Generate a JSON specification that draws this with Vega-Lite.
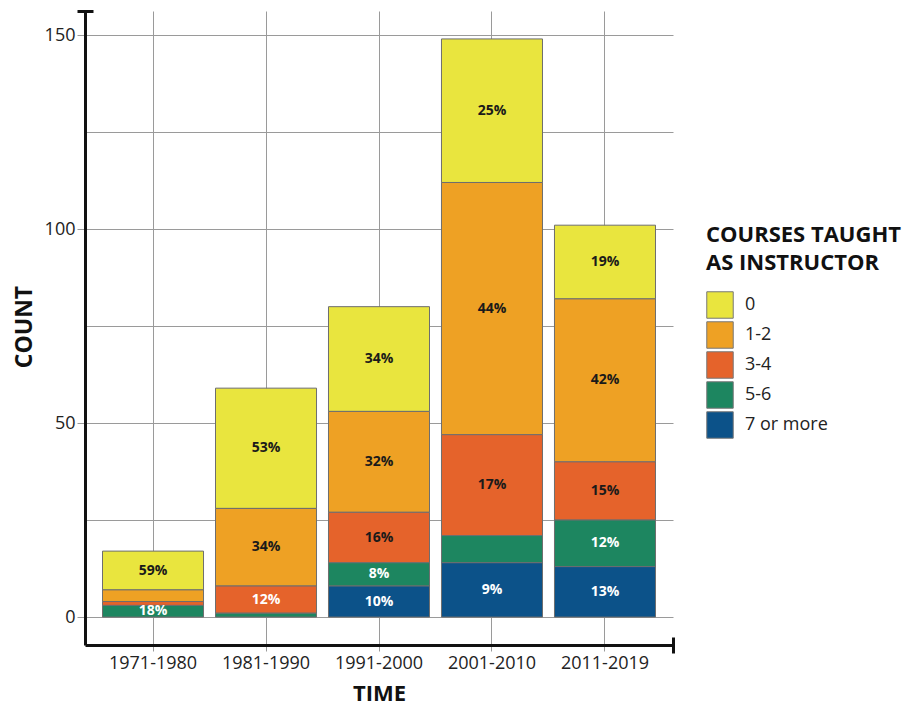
{
  "$schema": "https://vega.github.io/schema/vega-lite/v6.json",
  "width": 588,
  "height": 634,
  "autosize": {"type": "none"},
  "padding": {"left": 85, "top": 11, "right": 246, "bottom": 61},
  "background": "white",
  "config": {"view": {"stroke": null}, "font": "Open Sans"},
  "data": {
    "values": [
      {"time": "1971-1980", "course": "0", "count": 10, "label": "59%"},
      {"time": "1971-1980", "course": "1-2", "count": 3, "label": ""},
      {"time": "1971-1980", "course": "3-4", "count": 1, "label": ""},
      {"time": "1971-1980", "course": "5-6", "count": 3, "label": "18%"},
      {"time": "1981-1990", "course": "0", "count": 31, "label": "53%"},
      {"time": "1981-1990", "course": "1-2", "count": 20, "label": "34%"},
      {"time": "1981-1990", "course": "3-4", "count": 7, "label": "12%"},
      {"time": "1981-1990", "course": "5-6", "count": 1, "label": ""},
      {"time": "1991-2000", "course": "0", "count": 27, "label": "34%"},
      {"time": "1991-2000", "course": "1-2", "count": 26, "label": "32%"},
      {"time": "1991-2000", "course": "3-4", "count": 13, "label": "16%"},
      {"time": "1991-2000", "course": "5-6", "count": 6, "label": "8%"},
      {"time": "1991-2000", "course": "7 or more", "count": 8, "label": "10%"},
      {"time": "2001-2010", "course": "0", "count": 37, "label": "25%"},
      {"time": "2001-2010", "course": "1-2", "count": 65, "label": "44%"},
      {"time": "2001-2010", "course": "3-4", "count": 26, "label": "17%"},
      {"time": "2001-2010", "course": "5-6", "count": 7, "label": ""},
      {"time": "2001-2010", "course": "7 or more", "count": 14, "label": "9%"},
      {"time": "2011-2019", "course": "0", "count": 19, "label": "19%"},
      {"time": "2011-2019", "course": "1-2", "count": 42, "label": "42%"},
      {"time": "2011-2019", "course": "3-4", "count": 15, "label": "15%"},
      {"time": "2011-2019", "course": "5-6", "count": 12, "label": "12%"},
      {"time": "2011-2019", "course": "7 or more", "count": 13, "label": "13%"}
    ]
  },
  "layer": [
    {
      "mark": {"type": "bar", "stroke": "#6e6e6e", "strokeWidth": 1},
      "encoding": {
        "x": {
          "field": "time", "type": "nominal",
          "scale": {"paddingInner": 0.106, "paddingOuter": 0.155},
          "axis": {
            "orient": "bottom", "title": "TIME", "grid": true,
            "gridColor": "#9a9a9a", "gridWidth": 1,
            "domainColor": "#111111", "domainWidth": 3,
            "tickColor": "#9a9a9a", "tickSize": 6, "tickWidth": 1,
            "labelFontSize": 18, "labelColor": "#222222", "labelAngle": 0, "labelPadding": 3,
            "titleFontSize": 22, "titleFontWeight": "bold", "titleColor": "#111111",
            "titleY": 48, "titleBaseline": "middle"
          }
        },
        "y": {
          "field": "count", "type": "quantitative", "stack": "zero",
          "scale": {"domain": [-7.2, 156.2], "nice": false, "zero": false},
          "axis": {
            "orient": "left", "title": "COUNT",
            "values": [0, 25, 50, 75, 100, 125, 150],
            "grid": true, "gridColor": "#9a9a9a", "gridWidth": 1,
            "domainColor": "#111111", "domainWidth": 3,
            "tickColor": "#9a9a9a", "tickSize": 8, "tickWidth": 1,
            "tickOpacity": {"condition": {"test": "datum.value % 50 !== 0", "value": 0}, "value": 1},
            "labelExpr": "datum.value % 50 === 0 ? datum.label : ''",
            "labelFontSize": 18, "labelColor": "#222222", "labelPadding": 2,
            "titleFontSize": 23, "titleFontWeight": "bold", "titleColor": "#111111",
            "titleAngle": -90, "titleX": -61, "titleY": 315.5,
            "titleAlign": "center", "titleBaseline": "middle"
          }
        },
        "color": {
          "field": "course", "type": "nominal",
          "scale": {
            "domain": ["0", "1-2", "3-4", "5-6", "7 or more"],
            "range": ["#e9e53e", "#eea124", "#e5632b", "#1d8660", "#0c5289"]
          },
          "legend": {
            "title": ["COURSES TAUGHT", "AS INSTRUCTOR"],
            "orient": "none", "legendX": 621, "legendY": 214,
            "titleFontSize": 22, "titleFontWeight": "bold", "titleColor": "#111111",
            "titleLineHeight": 28, "titlePadding": 16, "titleLimit": 400,
            "labelFontSize": 18, "labelColor": "#222222", "labelOffset": 11,
            "symbolType": "square", "symbolSize": 700,
            "symbolStrokeColor": "#777777", "symbolStrokeWidth": 1, "symbolOpacity": 1,
            "rowPadding": -3, "padding": 0
          }
        },
        "order": {"field": "course", "sort": "descending"}
      }
    },
    {
      "mark": {"type": "text", "fontSize": 14, "fontWeight": "bold", "font": "Open Sans", "baseline": "middle"},
      "encoding": {
        "x": {
          "field": "time", "type": "nominal",
          "scale": {"paddingInner": 0.106, "paddingOuter": 0.155},
          "axis": {
            "orient": "bottom", "values": ["2011-2019"], "tickOffset": 68, "offset": -8,
            "tickSize": 16, "tickWidth": 3, "tickColor": "#111111",
            "domain": false, "labels": false, "grid": false, "title": null
          }
        },
        "y": {
          "field": "count", "type": "quantitative", "stack": "zero", "bandPosition": 0.5,
          "scale": {"domain": [-7.2, 156.2], "nice": false, "zero": false},
          "axis": {
            "orient": "left", "values": [156.2], "offset": -8,
            "tickSize": 16, "tickWidth": 3, "tickColor": "#111111",
            "domain": false, "labels": false, "grid": false, "title": null
          }
        },
        "detail": {"field": "course"},
        "text": {"field": "label"},
        "color": {
          "condition": {
            "test": "datum.course === '5-6' || datum.course === '7 or more' || (datum.course === '3-4' && datum.time === '1981-1990')",
            "value": "#ffffff"
          },
          "value": "#1a1a1a"
        },
        "order": {"field": "course", "sort": "descending"}
      }
    }
  ],
  "resolve": {"axis": {"x": "independent", "y": "independent"}}
}
